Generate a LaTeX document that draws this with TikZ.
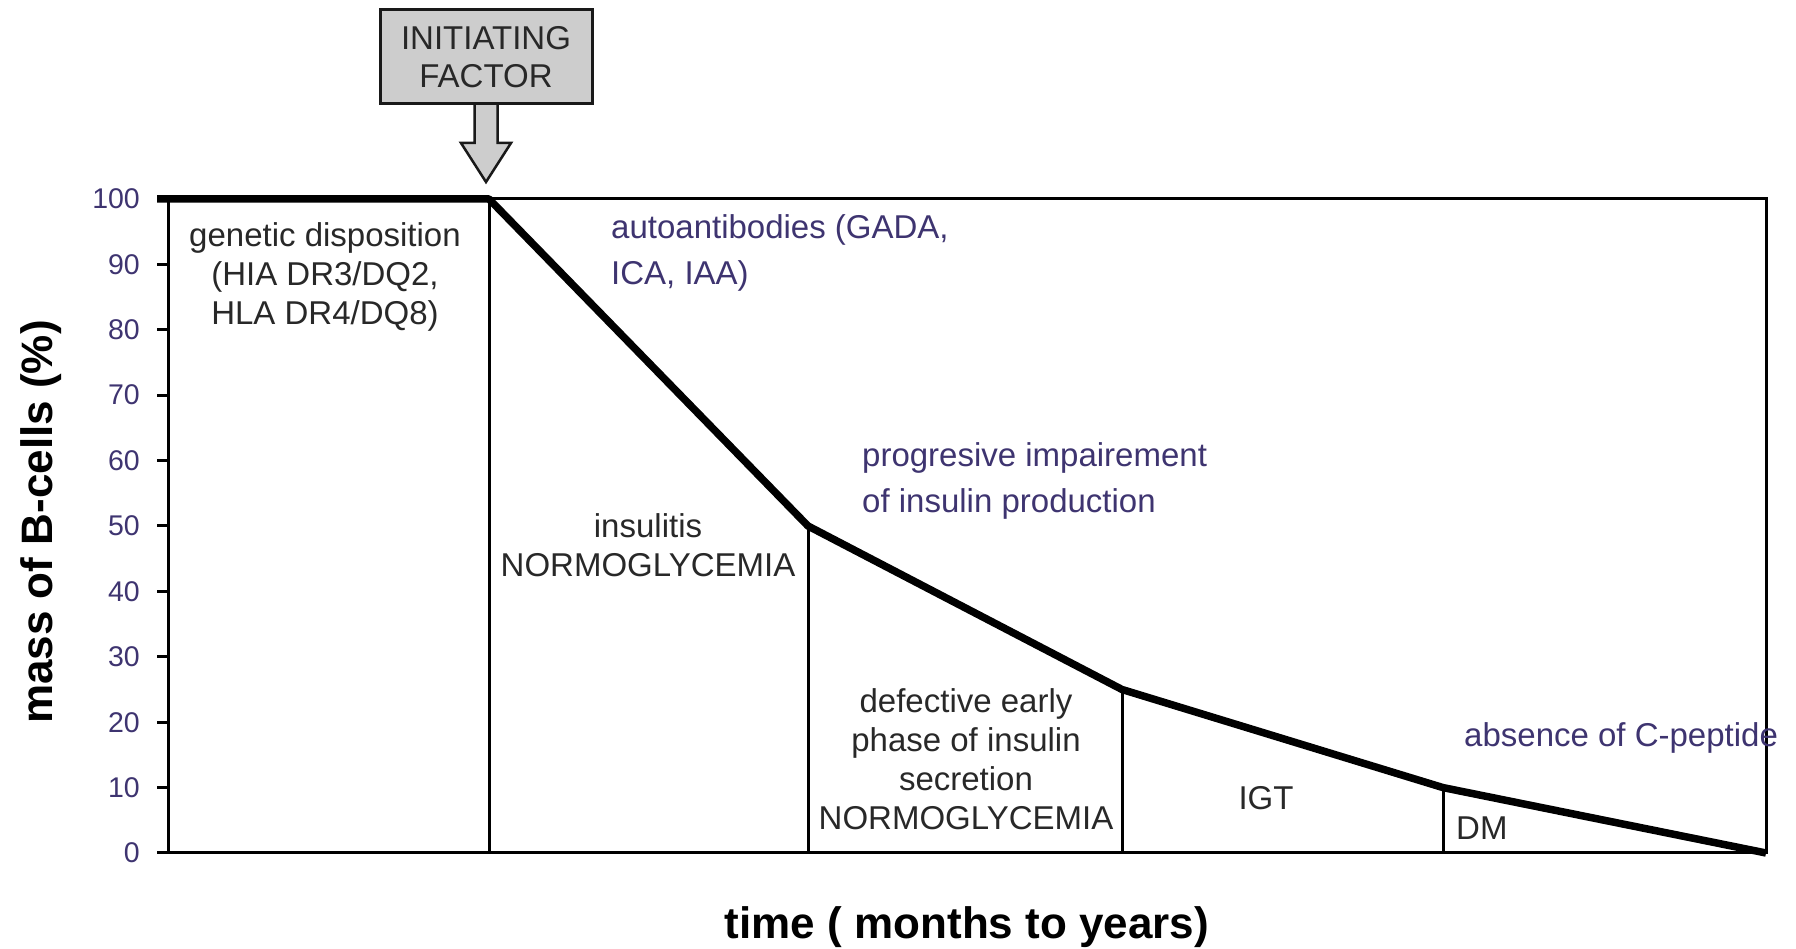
\documentclass[tikz,border=0pt]{standalone}
\usepackage{fontspec}
\setmainfont{Liberation Sans}
\definecolor{annot}{RGB}{62,52,112}
\definecolor{boxgray}{RGB}{205,205,205}
\definecolor{graytext}{RGB}{40,40,40}
\begin{document}
\begin{tikzpicture}[x=1pt,y=1pt,
  thinln/.style={line width=3pt},
  curveln/.style={line width=7.5pt, line join=round},
  txt/.style={font=\fontsize{33}{39}\selectfont, text=graytext, inner sep=0pt, align=center},
  note/.style={font=\fontsize{33}{46}\selectfont, text=annot, inner sep=0pt, align=left},
  ticklab/.style={font=\fontsize{28.5}{32}\selectfont, text=annot, inner sep=0pt, anchor=east},
  axtitle/.style={font=\bfseries\fontsize{44}{50}\selectfont, inner sep=0pt, anchor=base}]
\useasboundingbox (0,0) rectangle (1796,949);

% curve points
\coordinate (p0) at (157,750);
\coordinate (p1) at (489,750);
\coordinate (p2) at (808,423);
\coordinate (p3) at (1122,259.5);
\coordinate (p4) at (1443,161.4);
\coordinate (p5) at (1766,96);
\coordinate (b1) at (489,96);
\coordinate (b2) at (808,96);
\coordinate (b3) at (1122,96);
\coordinate (b4) at (1443,96);

% frame
\draw[thinln] (168,750) -- (1766,750) -- (1766,96) -- (168,96) -- cycle;

% ticks and labels
\foreach \p/\lab in {0/0,1/10,2/20,3/30,4/40,5/50,6/60,7/70,8/80,9/90,10/100}{
  \draw[thinln] (157,{96+65.4*\p}) -- (168,{96+65.4*\p});
  \node[ticklab] (t\p) at (140,{96+65.4*\p}) {\lab};
}

% dividers
\draw[thinln] (p1) -- (b1);
\draw[thinln] (p2) -- (b2);
\draw[thinln] (p3) -- (b3);
\draw[thinln] (p4) -- (b4);

% curve
\draw[curveln] (p0) -- (p1) -- (p2) -- (p3) -- (p4) -- (p5);

% initiating factor
\draw[fill=boxgray, draw=black!90, line width=2.5pt, line join=miter]
  (474.5,845) -- (474.5,806) -- (461,806) -- (486,767) -- (511,806) -- (497.5,806) -- (497.5,845);
\node[draw=black!90, fill=boxgray, line width=3pt, minimum width=212pt, minimum height=94pt,
  inner sep=0pt, align=center, font=\fontsize{33}{38}\selectfont, text=graytext] (init) at (486,892) {INITIATING\\FACTOR};

% texts (base anchor = baseline of last line)
\node[txt, anchor=base] (gen) at (325,624) {genetic disposition\\(HIA DR3/DQ2,\\HLA DR4/DQ8)};
\node[note, anchor=base west] (auto) at (611,664) {autoantibodies (GADA,\\ICA, IAA)};
\node[note, anchor=base west] (prog) at (862,436) {progresive impairement\\of insulin production};
\node[txt, anchor=base] (ins) at (648,372) {insulitis\\NORMOGLYCEMIA};
\node[txt, anchor=base] (def) at (966,119) {defective early\\phase of insulin\\secretion\\NORMOGLYCEMIA};
\node[txt, anchor=base] (igt) at (1266,139) {IGT};
\node[txt, anchor=base west] (dm) at (1456,109) {DM};
\node[note, anchor=base west] (abs) at (1464,202) {absence of C-peptide};

% axis titles
\node[axtitle] (xt) at (967,10) {time ( months to years)};
\node[axtitle, rotate=90] (yt) at (52,427) {mass of B-cells (\%)};
\end{tikzpicture}
\end{document}
